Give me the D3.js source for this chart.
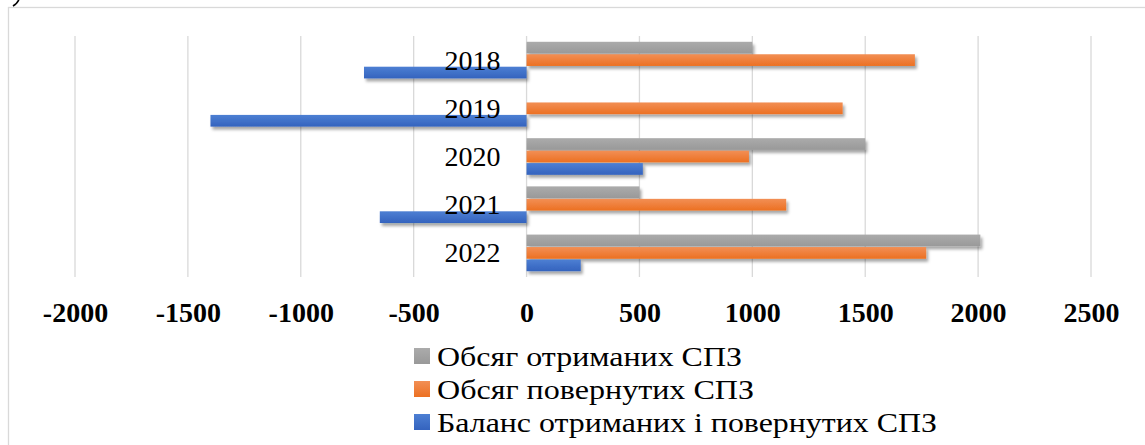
<!DOCTYPE html>
<html><head><meta charset="utf-8">
<script src="https://cdn.jsdelivr.net/npm/d3@7"></script>
<style>
html,body{margin:0;padding:0;background:#fff;}
svg{display:block;}
</style></head>
<body>
<svg id="chart" width="1145" height="445"></svg>
<script>
const categories = ["2018", "2019", "2020", "2021", "2022"];
const seriesNames = ["Обсяг отриманих СПЗ", "Обсяг повернутих СПЗ", "Баланс отриманих і повернутих СПЗ"];
const received = [1000, 0, 1500, 500, 2010];
const returned = [1720, 1400, 985, 1150, 1770];
const balance = [-720, -1400, 515, -650, 240];
const tickValues = [-2000, -1500, -1000, -500, 0, 500, 1000, 1500, 2000, 2500];

const seriesValues = [received, returned, balance];
const colors = [
  {top: "#ababab", bot: "#999999"},
  {top: "#f28f55", bot: "#ec7022"},
  {top: "#4d7fd3", bot: "#3463be"}
];
const legendWidths = [305, 317, 500];

const svg = d3.select("#chart");
const defs = svg.append("defs");
colors.forEach((c, i) => {
  const g = defs.append("linearGradient").attr("id", "grad" + i)
    .attr("x1", 0).attr("y1", 0).attr("x2", 0).attr("y2", 1);
  g.append("stop").attr("offset", "0%").attr("stop-color", c.top);
  g.append("stop").attr("offset", "100%").attr("stop-color", c.bot);
});
const f = defs.append("filter").attr("id", "shadow")
  .attr("x", "-5%").attr("y", "-40%").attr("width", "115%").attr("height", "200%");
f.append("feDropShadow").attr("dx", 2).attr("dy", 3).attr("stdDeviation", 1.8)
  .attr("flood-color", "#000").attr("flood-opacity", 0.35);

// frame
svg.append("rect").attr("x", 8.5).attr("y", 7.5).attr("width", 1200).attr("height", 500)
  .attr("fill", "none").attr("stroke", "#d9d9d9").attr("stroke-width", 1.3);
// fragment of a glyph from the caption above (cut off by the image edge)
svg.append("path").attr("d", "M19,-1 Q18,3 13,6")
  .attr("fill", "none").attr("stroke", "#000").attr("stroke-width", 1.6);

const x = d3.scaleLinear().domain([-2000, 2500]).range([75, 1091]);
const plotTop = 36, plotBottom = 277;
const y = d3.scaleBand().domain(categories).range([plotTop, plotBottom])
  .paddingInner(0.24).paddingOuter(0.12);
const ySub = d3.scaleBand().domain(d3.range(3)).range([0, y.bandwidth()]).paddingInner(0.06);

// gridlines
svg.append("g").selectAll("line").data(tickValues).join("line")
  .attr("x1", d => x(d)).attr("x2", d => x(d))
  .attr("y1", plotTop).attr("y2", plotBottom)
  .attr("stroke", "#d9d9d9").attr("stroke-width", 1.3);

// bars
seriesValues.forEach((vals, si) => {
  svg.append("g").attr("filter", "url(#shadow)").selectAll("rect")
    .data(categories.map((c, i) => ({c, v: vals[i]})).filter(d => d.v !== 0))
    .join("rect")
    .attr("x", d => Math.min(x(0), x(d.v)))
    .attr("width", d => Math.abs(x(d.v) - x(0)))
    .attr("y", d => y(d.c) + ySub(si))
    .attr("height", ySub.bandwidth())
    .attr("fill", "url(#grad" + si + ")");
});

// category labels
svg.append("g").selectAll("text").data(categories).join("text")
  .attr("x", x(0) - 26).attr("y", d => y(d) + y.bandwidth() / 2)
  .attr("dy", "0.34em").attr("text-anchor", "end")
  .attr("font-family", "Liberation Serif").attr("font-size", 28).attr("fill", "#000")
  .text(d => d);

// x axis tick labels
const xAxis = d3.axisBottom(x).tickValues(tickValues).tickSize(0).tickPadding(0)
  .tickFormat(d3.format("d"));
const ax = svg.append("g").attr("transform", "translate(0,322)").call(xAxis);
ax.select(".domain").remove();
ax.selectAll("text").attr("dy", 0).attr("y", 0)
  .attr("font-family", "Liberation Serif").attr("font-size", 28).attr("font-weight", "bold")
  .attr("fill", "#000").text(d => d < 0 ? "-" + Math.abs(d) : d);

// legend
const legend = svg.append("g");
seriesNames.forEach((name, i) => {
  const yy = 364 + i * 33;
  legend.append("rect").attr("x", 414).attr("y", yy - 16).attr("width", 16).attr("height", 16)
    .attr("fill", "url(#grad" + i + ")");
  legend.append("text").attr("x", 437).attr("y", yy + 2)
    .attr("font-family", "Liberation Serif").attr("font-size", 28).attr("fill", "#000")
    .attr("textLength", legendWidths[i]).attr("lengthAdjust", "spacingAndGlyphs")
    .text(name);
});
</script>
</body></html>
